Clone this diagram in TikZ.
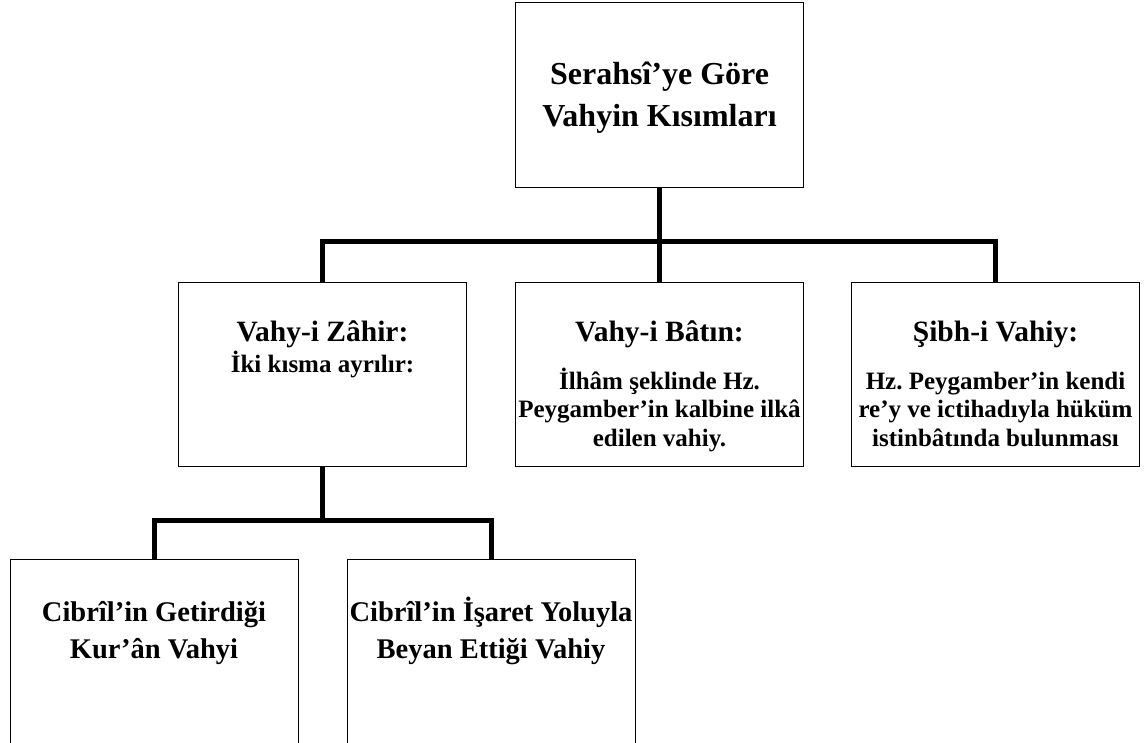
\documentclass[tikz,border=0pt]{standalone}
\usepackage{fontspec}
\setmainfont{Liberation Serif}
\frenchspacing
\begin{document}
\begin{tikzpicture}[x=1pt,y=-1pt,
  box/.style={draw=black, line width=1.3pt, fill=white, anchor=north west,
              inner sep=0pt, minimum width=288pt},
  conn/.style={line width=5pt, line join=miter},
  % multi-line texts are placed by the baseline of their last line
  txt/.style={align=center, inner sep=0pt, anchor=base},
  headfont/.style={font=\bfseries\fontsize{32}{42}\selectfont},
  titlefont/.style={font=\bfseries\fontsize{29.5}{34}\selectfont},
  bodyfont/.style={font=\bfseries\fontsize{25}{28.5}\selectfont},
  leaffont/.style={font=\bfseries\fontsize{28.5}{37}\selectfont}]
\useasboundingbox (0,0) rectangle (1147,742);
\clip (0,0) rectangle (1147,742);

% boxes
\node[box, minimum height=185pt] (top) at (515,2) {};
\node[box, minimum height=184pt] (zahir) at (178,282) {};
\node[box, minimum height=184pt] (batin) at (515,282) {};
\node[box, minimum height=184pt] (sibh)  at (851,282) {};
\node[box, minimum height=220pt] (kuran) at (10,559) {};
\node[box, minimum height=220pt] (isaret) at (347,559) {};

% connectors
\coordinate (bus1) at (0,241.5);
\coordinate (bus2) at (0,520);
\draw[conn] (top.south) -- (top.south |- bus1);
\draw[conn] (zahir.north) |- (sibh.north |- bus1) -- (sibh.north);
\draw[conn] (batin.north) -- (batin.north |- bus1);
\draw[conn] (zahir.south) -- (zahir.south |- bus2);
\draw[conn] (kuran.north) |- (isaret.north |- bus2) -- (isaret.north);

% texts
\node[txt, headfont] (topT) at (659.5,126) {Serahsî’ye Göre\\Vahyin Kısımları};

\node[txt, titlefont] (zahirT) at (322.5,341) {Vahy-i Zâhir:};
\node[txt, bodyfont] (zahirB) at (322.5,372) {İki kısma ayrılır:};

\node[txt, titlefont] (batinT) at (659.5,341) {Vahy-i Bâtın:};
\node[txt, bodyfont] (batinB) at (659.5,446) {İlhâm şeklinde Hz.\\Peygamber’in kalbine ilkâ\\edilen vahiy.};

\node[txt, titlefont] (sibhT) at (995.5,341) {Şibh-i Vahiy:};
\node[txt, bodyfont] (sibhB) at (995.5,446) {Hz. Peygamber’in kendi\\re’y ve ictihadıyla hüküm\\istinbâtında bulunması};

\node[txt, leaffont] (kuranT) at (154,658) {Cibrîl’in Getirdiği\\Kur’ân Vahyi};
\node[txt, leaffont] (isaretT) at (491,658) {Cibrîl’in İşaret Yoluyla\\Beyan Ettiği Vahiy};
\end{tikzpicture}
\end{document}
